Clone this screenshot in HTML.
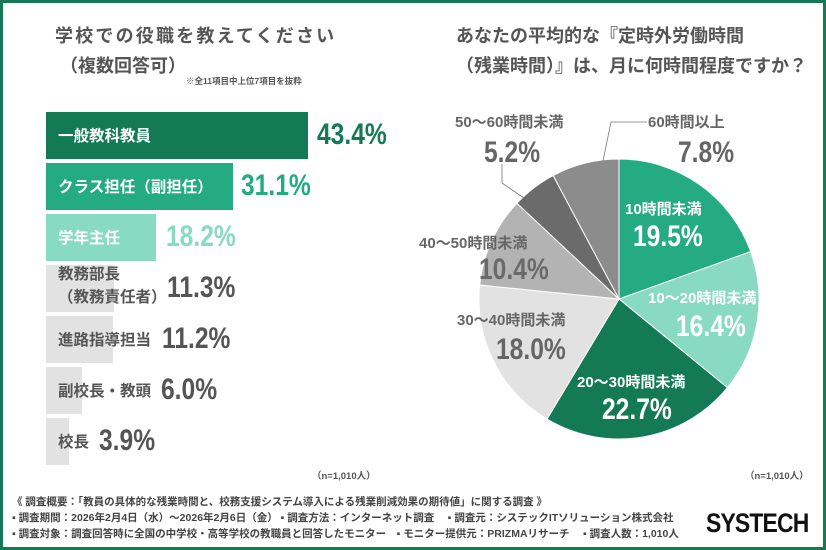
<!DOCTYPE html>
<html><head><meta charset="utf-8"><style>
*{margin:0;padding:0;box-sizing:border-box}
body{width:826px;height:550px;overflow:hidden;background:#fff;font-family:"Liberation Sans","Noto Sans CJK JP",sans-serif;color:#555;position:relative}
.frame{position:absolute;left:0;top:0;width:826px;height:550px;border:3px solid #137a55}
.a{position:absolute;white-space:nowrap}
.t{font-weight:bold;font-size:18px;color:#555}
.bar{position:absolute;left:46px;height:47px}
.bl{position:absolute;left:58px;font-weight:bold;font-size:15.5px;white-space:nowrap}
.pc{position:absolute;font-weight:bold;font-size:30px;transform:scaleX(0.82);transform-origin:left center;white-space:nowrap;line-height:1}
.f{position:absolute;left:12px;font-size:10.5px;color:#444;white-space:nowrap;font-weight:bold}
.pl{position:absolute;white-space:nowrap;font-size:15px;font-weight:bold}
</style></head><body>
<div class="frame"></div>
<div class="a t" style="left:55px;top:22px;letter-spacing:2.2px">学校での役職を教えてください</div>
<div class="a t" style="left:60px;top:52px">（複数回答可）</div>
<div class="a" style="left:186px;top:75px;font-size:8.5px;font-weight:bold;color:#555">※全11項目中上位7項目を抜粋</div>

<div class="bar" style="top:112px;width:262px;background:#137a55"></div>
<div class="bl" style="top:124px;color:#fff">一般教科教員</div>
<div class="pc" style="left:317px;top:120px;color:#137a55">43.4%</div>

<div class="bar" style="top:163px;width:187px;background:#25ab82"></div>
<div class="bl" style="top:175px;color:#fff">クラス担任（副担任）</div>
<div class="pc" style="left:241px;top:171px;color:#25ab82">31.1%</div>

<div class="bar" style="top:214px;width:110px;background:#88dbc0"></div>
<div class="bl" style="top:226px;color:#fff">学年主任</div>
<div class="pc" style="left:166px;top:222px;color:#88dbc0">18.2%</div>

<div class="bar" style="top:265px;width:68px;background:#e2e2e2"></div>
<div class="bl" style="top:263px;color:#555;line-height:23px">教務部長<br>（教務責任者）</div>
<div class="pc" style="left:167px;top:273px;color:#555">11.3%</div>

<div class="bar" style="top:316px;width:67px;background:#e2e2e2"></div>
<div class="bl" style="top:328px;color:#555">進路指導担当</div>
<div class="pc" style="left:162px;top:324px;color:#555">11.2%</div>

<div class="bar" style="top:367px;width:36px;background:#e2e2e2"></div>
<div class="bl" style="top:379px;color:#555">副校長・教頭</div>
<div class="pc" style="left:161px;top:375px;color:#555">6.0%</div>

<div class="bar" style="top:418px;width:23px;background:#e2e2e2"></div>
<div class="bl" style="top:430px;color:#555">校長</div>
<div class="pc" style="left:99px;top:426px;color:#555">3.9%</div>

<div class="a" style="left:312px;top:468px;font-size:9.5px;font-weight:bold;color:#555">（n=1,010人）</div>

<div class="a t" style="left:456px;top:22px">あなたの平均的な『定時外労働時間</div>
<div class="a t" style="left:456px;top:52px">（残業時間）』は、月に何時間程度ですか？</div>

<svg class="a" style="left:0;top:0" width="826" height="550">
<g stroke="#fff" stroke-width="1">
<path d="M619,299 L619,159 A140,140 0 0 1 750.7,251.6 Z" fill="#25ab82"/>
<path d="M619,299 L750.7,251.6 A140,140 0 0 1 727.4,387.6 Z" fill="#88dbc0"/>
<path d="M619,299 L727.4,387.6 A140,140 0 0 1 547,419.1 Z" fill="#137a55"/>
<path d="M619,299 L547,419.1 A140,140 0 0 1 479.7,285 Z" fill="#e2e2e2"/>
<path d="M619,299 L479.7,285 A140,140 0 0 1 516.9,203.2 Z" fill="#b3b3b3"/>
<path d="M619,299 L516.9,203.2 A140,140 0 0 1 553.1,175.5 Z" fill="#6b6b6b"/>
<path d="M619,299 L553.1,175.5 A140,140 0 0 1 619,159 Z" fill="#8c8c8c"/>
</g>
<polyline points="603,161 611,122 647,122" fill="none" stroke="#777" stroke-width="0.8"/>
<polyline points="524,198 502,183 502,164" fill="none" stroke="#777" stroke-width="0.8"/>
</svg>

<div class="pl" style="left:455px;top:111px;color:#666">50〜60時間未満</div>
<div class="pc" style="left:484px;top:138px;color:#666">5.2%</div>
<div class="pl" style="left:648px;top:111px;color:#666">60時間以上</div>
<div class="pc" style="left:678px;top:138px;color:#666">7.8%</div>
<div class="pl" style="left:625px;top:198px;color:#fff">10時間未満</div>
<div class="pc" style="left:633px;top:222px;color:#fff">19.5%</div>
<div class="pl" style="left:648px;top:287px;color:#fff">10〜20時間未満</div>
<div class="pc" style="left:676px;top:312px;color:#fff">16.4%</div>
<div class="pl" style="left:419px;top:232px;color:#666">40〜50時間未満</div>
<div class="pc" style="left:479px;top:255px;color:#6a6a6a">10.4%</div>
<div class="pl" style="left:457px;top:309px;color:#666">30〜40時間未満</div>
<div class="pc" style="left:496px;top:335px;color:#666">18.0%</div>
<div class="pl" style="left:577px;top:371px;color:#fff">20〜30時間未満</div>
<div class="pc" style="left:602px;top:395px;color:#fff">22.7%</div>

<div class="a" style="left:745px;top:468px;font-size:9.5px;font-weight:bold;color:#555">（n=1,010人）</div>

<div class="f" style="top:494px">《 調査概要：「教員の具体的な残業時間と、校務支援システム導入による残業削減効果の期待値」に関する調査 》</div>
<div class="f" style="top:510px">▪ 調査期間：2026年2月4日（水）〜2026年2月6日（金） ▪ 調査方法：インターネット調査　 ▪ 調査元：システックITソリューション株式会社</div>
<div class="f" style="top:526px">▪ 調査対象：調査回答時に全国の中学校・高等学校の教職員と回答したモニター　▪ モニター提供元：PRIZMAリサーチ　 ▪ 調査人数：1,010人</div>
<div class="a" style="left:706px;top:508px;font-size:27px;font-weight:900;color:#111;letter-spacing:-1px;transform:scaleX(0.85);transform-origin:left">SYSTECH</div>
</body></html>
